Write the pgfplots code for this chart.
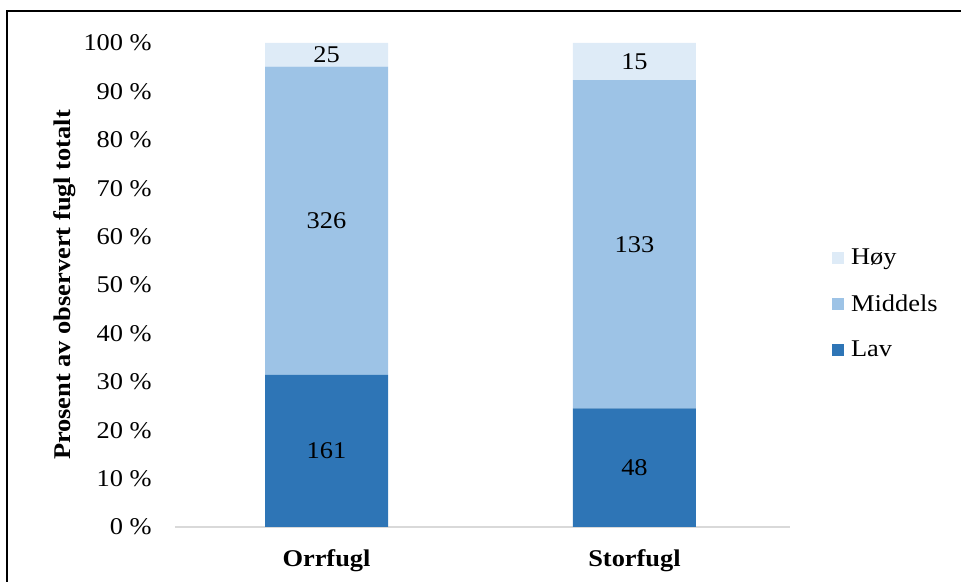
\documentclass[border=0pt]{standalone}
\usepackage{fontspec}
\setmainfont{Liberation Serif}[FakeStretch=1.1]
\usepackage{pgfplots}
\pgfplotsset{compat=1.18}
\usepackage{pgfplotstable}

\definecolor{lav}{HTML}{2E75B6}
\definecolor{middels}{HTML}{9DC3E6}
\definecolor{hoy}{HTML}{DEEBF7}
\definecolor{axisgray}{HTML}{D9D9D9}

% square legend swatch
\pgfplotsset{sqlegend/.style={legend image code/.code={\fill[##1,draw=none] (0pt,-4.5pt) rectangle (9pt,4.5pt);}}}

% counts of observed birds per level, and their share of the total (%)
\pgfplotstableread{
x lav lavp   mid midp   hoy hoyp
0 161 31.445 326 63.672 25  4.883
1 48  24.490 133 67.857 15  7.653
}\fugl

\newcommand{\lbl}{\fontsize{18}{21.6}\selectfont}

\begin{document}
\begin{tikzpicture}
\useasboundingbox (0,0) rectangle (720.75pt,436.5pt);
\draw[line width=1.5pt] (5.25pt,0) -- (5.25pt,428.25pt) -- (720.75pt,428.25pt);
\begin{axis}[
  at={(131.25pt,41.25pt)}, anchor=south west,
  scale only axis, width=461.25pt, height=363pt,
  ybar stacked, bar width=92.25pt,
  xmin=-0.4919, xmax=1.5049, ymin=0, ymax=100,
  xtick={0,1}, xticklabels={Orrfugl,Storfugl},
  ytick={0,10,...,100},
  yticklabels={0 \%,10 \%,20 \%,30 \%,40 \%,50 \%,60 \%,70 \%,80 \%,90 \%,100 \%},
  axis x line*=bottom, axis y line*=left,
  axis line style={-},
  x axis line style={draw=axisgray, line width=1.5pt},
  y axis line style={draw=none},
  major tick length=0pt,
  tick label style={font=\lbl},
  xticklabel style={font=\lbl\bfseries, anchor=base, yshift=-30pt},
  yticklabel style={anchor=east, inner sep=0pt, xshift=-17.25pt},
  ylabel={Prosent av observert fugl totalt},
  every axis y label/.style={at={(axis description cs:-0.179,0.5)}, rotate=90, anchor=center, font=\lbl\bfseries},
  legend style={draw=none, fill=none, inner sep=0pt, font=\lbl,
    at={(axis description cs:1.068,0.461)}, anchor=west,
    nodes={inner sep=0pt}, row sep=21pt,
    /tikz/every odd column/.append style={column sep=5.25pt}},
  legend cell align=left,
  reverse legend,
  nodes near coords,
  point meta=explicit symbolic,
  every node near coord/.append style={font=\lbl, anchor=center},
]
\addplot[fill=lav, draw=none, sqlegend]
  table[x=x, y=lavp, meta=lav] {\fugl};
\addplot[fill=middels, draw=none, sqlegend]
  table[x=x, y=midp, meta=mid] {\fugl};
\addplot[fill=hoy, draw=none, sqlegend]
  table[x=x, y=hoyp, meta=hoy] {\fugl};
\legend{Lav,Middels,Høy}
\end{axis}
\end{tikzpicture}
\end{document}
